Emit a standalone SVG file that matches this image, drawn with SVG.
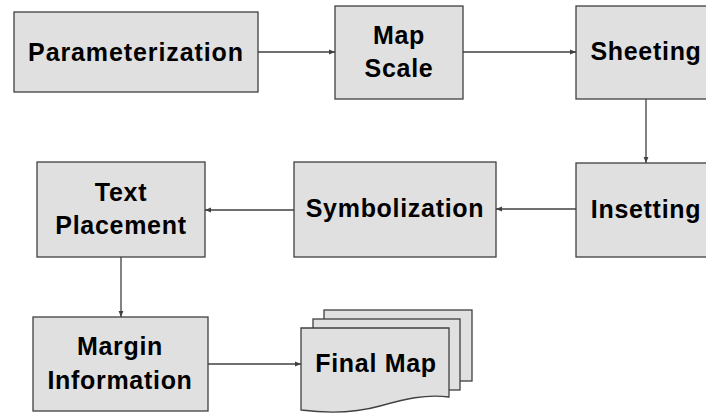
<svg xmlns="http://www.w3.org/2000/svg" width="706" height="414" viewBox="0 0 706 414">
<style>
.box{fill:#e0e0e0;stroke:#404040;stroke-width:1.3}
.lbl{font-family:"Liberation Sans",Arial,sans-serif;font-weight:bold;font-size:25px;letter-spacing:0.7px;fill:#000;text-anchor:middle}
.con{stroke:#404040;stroke-width:1.3;fill:none;marker-end:url(#ah)}
</style>
<defs>
<marker id="ah" viewBox="0 0 10 10" refX="10" refY="5" markerWidth="6" markerHeight="6" markerUnits="userSpaceOnUse" orient="auto">
<path d="M0,1 L10,5 L0,9 Z" fill="#404040"/>
</marker>
</defs>
<rect width="706" height="414" fill="#ffffff"/>
<g id="connectors">
<line class="con" x1="258" y1="52" x2="335" y2="52"/>
<line class="con" x1="463" y1="52" x2="576" y2="52"/>
<line class="con" x1="646" y1="99" x2="646" y2="163"/>
<line class="con" x1="576" y1="209" x2="496" y2="209"/>
<line class="con" x1="294" y1="210" x2="205" y2="210"/>
<line class="con" x1="121" y1="257" x2="121" y2="317"/>
<line class="con" x1="208" y1="364" x2="301" y2="364"/>
</g>
<g id="parameterization">
<rect class="box" x="14" y="12" width="244" height="80"/>
<text class="lbl" x="136" y="61" style="letter-spacing:0.9px">Parameterization</text>
</g>
<g id="map-scale">
<rect class="box" x="335" y="6" width="128" height="93"/>
<text class="lbl" x="399" y="44">Map</text>
<text class="lbl" x="399" y="77">Scale</text>
</g>
<g id="sheeting">
<rect class="box" x="576" y="6" width="140" height="93"/>
<text class="lbl" x="646" y="60">Sheeting</text>
</g>
<g id="insetting">
<rect class="box" x="576" y="163" width="140" height="94"/>
<text class="lbl" x="646" y="218">Insetting</text>
</g>
<g id="symbolization">
<rect class="box" x="294" y="162" width="202" height="95"/>
<text class="lbl" x="395" y="217">Symbolization</text>
</g>
<g id="text-placement">
<rect class="box" x="37" y="162" width="168" height="95"/>
<text class="lbl" x="121" y="201">Text</text>
<text class="lbl" x="121" y="234">Placement</text>
</g>
<g id="margin-information">
<rect class="box" x="33" y="317" width="175" height="94"/>
<text class="lbl" x="120" y="355">Margin</text>
<text class="lbl" x="120" y="389">Information</text>
</g>
<g id="final-map">
<rect class="box" x="324" y="310" width="148" height="71"/>
<rect class="box" x="313" y="319" width="147" height="71"/>
<path class="box" d="M301,328 H449 V397 C425,394 405,399 380,406 C355,413 325,413 301,410 Z"/>
<text class="lbl" x="376" y="372">Final Map</text>
</g>
</svg>
